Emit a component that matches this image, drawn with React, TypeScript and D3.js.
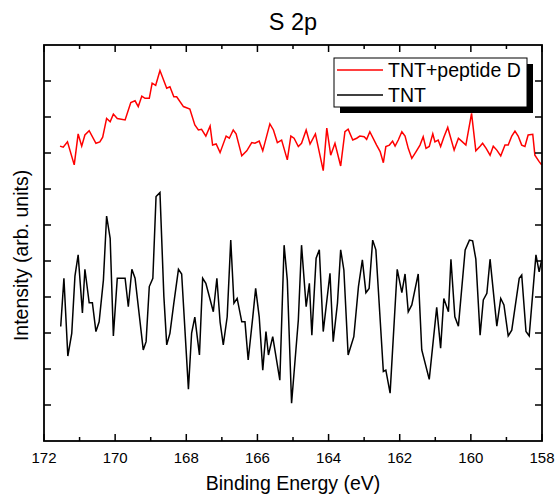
import React from "react";
import * as d3 from "d3";

const title = "S 2p";
const xLabel = "Binding Energy (eV)";
const yLabel = "Intensity (arb. units)";
const seriesNames = ["TNT+peptide D", "TNT"];
const seriesColors = ["#ff0000", "#000000"];

const xMajorTicks = [172, 170, 168, 166, 164, 162, 160, 158];
const xMinorTicks = [171, 169, 167, 165, 163, 161, 159];
const yTicks = [1, 2, 3, 4, 5, 6, 7, 8, 9, 10];

// TNT+peptide D : binding energy (eV)
const redE = [
  171.55, 171.46, 171.34, 171.15, 171.04, 170.94, 170.85, 170.73, 170.54, 170.43,
  170.35, 170.24, 170.14, 170.05, 169.94, 169.72, 169.56, 169.44, 169.35, 169.25,
  169.16, 169.04, 168.96, 168.86, 168.74, 168.55, 168.46, 168.35, 168.27, 168.08,
  167.9, 167.76, 167.66, 167.57, 167.45, 167.33, 167.26, 167.16, 167.05, 166.88,
  166.79, 166.68, 166.6, 166.44, 166.3, 166.16, 166.07, 165.95, 165.85, 165.65,
  165.55, 165.44, 165.32, 165.16, 165.06, 164.97, 164.85, 164.76, 164.63, 164.52,
  164.37, 164.15, 164.05, 163.94, 163.82, 163.66, 163.54, 163.45, 163.32, 163.21,
  163.12, 163.0, 162.93, 162.84, 162.65, 162.55, 162.46, 162.39, 162.29, 162.2,
  162.13, 162.04, 161.94, 161.85, 161.76, 161.66, 161.54, 161.43, 161.34, 161.26,
  161.17, 161.07, 161.01, 160.92, 160.85, 160.76, 160.65, 160.59, 160.47, 160.35,
  160.26, 160.14, 159.98, 159.86, 159.74, 159.67, 159.57, 159.46, 159.37, 159.27,
  159.16, 159.04, 158.95, 158.85, 158.76, 158.67, 158.57, 158.48, 158.39, 158.26,
  158.2, 158.08, 158.01,
];
// TNT+peptide D : intensity
const redI = [
  8.19, 8.16, 8.31, 7.67, 8.53, 8.19, 8.5, 8.62, 8.27, 8.31,
  8.44, 8.96, 8.87, 9.08, 8.96, 8.92, 9.4, 9.45, 9.29, 9.58,
  9.52, 9.52, 9.94, 9.88, 10.29, 9.8, 9.84, 9.56, 9.56, 9.29,
  9.22, 8.78, 8.64, 8.66, 8.47, 8.75, 8.22, 8.25, 8.01, 8.47,
  8.41, 8.64, 8.53, 7.92, 8.06, 8.29, 8.27, 8.33, 8.06, 8.81,
  8.64, 8.29, 8.36, 7.81, 8.47, 8.41, 8.18, 8.27, 8.64, 8.25,
  8.53, 7.51, 8.69, 7.94, 8.27, 7.64, 8.59, 8.66, 8.36, 8.41,
  8.47, 8.45, 8.38, 8.59, 8.22, 8.04, 7.73, 8.18, 8.22, 8.33,
  8.19, 8.36, 8.59, 8.47, 8.13, 7.85, 8.04, 8.22, 8.45, 8.13,
  8.18, 8.53, 8.31, 8.36, 8.18, 8.44, 8.71, 8.5, 8.08, 8.41,
  8.33, 8.22, 9.1, 8.06, 8.19, 8.27, 8.13, 7.94, 8.19, 8.08,
  7.92, 8.22, 8.22, 8.47, 8.61, 8.47, 8.22, 8.18, 8.5, 8.52,
  7.94, 7.76, 7.67,
];

// TNT : binding energy (eV)
const blackE = [
  171.53, 171.44, 171.33, 171.22, 171.13, 171.04, 170.92, 170.85, 170.73, 170.64,
  170.54, 170.45, 170.33, 170.24, 170.14, 170.05, 169.94, 169.72, 169.63, 169.53,
  169.44, 169.21, 169.13, 169.04, 168.94, 168.85, 168.74, 168.63, 168.55, 168.46,
  168.35, 168.22, 168.13, 167.94, 167.85, 167.76, 167.63, 167.54, 167.45, 167.24,
  167.14, 167.05, 166.96, 166.85, 166.75, 166.66, 166.57, 166.44, 166.35, 166.26,
  166.13, 166.05, 165.95, 165.85, 165.76, 165.69, 165.57, 165.37, 165.25, 165.16,
  165.04, 164.85, 164.76, 164.63, 164.54, 164.47, 164.35, 164.26, 164.15, 163.96,
  163.87, 163.75, 163.66, 163.57, 163.45, 163.29, 163.16, 163.05, 162.95, 162.86,
  162.76, 162.67, 162.46, 162.39, 162.27, 162.07, 161.94, 161.85, 161.76, 161.66,
  161.48, 161.38, 161.17, 160.96, 160.85, 160.76, 160.63, 160.56, 160.45, 160.35,
  160.16, 160.04, 159.95, 159.86, 159.74, 159.65, 159.55, 159.46, 159.27, 159.16,
  159.07, 158.95, 158.85, 158.64, 158.57, 158.45, 158.36, 158.17, 158.08, 158.01,
];
// TNT : intensity
const blackI = [
  3.18, 4.52, 2.36, 2.99, 4.58, 5.17, 3.56, 4.77, 3.84, 3.84,
  3.04, 3.31, 4.47, 6.25, 5.63, 2.92, 4.52, 4.52, 3.73, 4.77,
  4.52, 2.53, 2.76, 4.29, 4.52, 6.79, 6.9, 4.01, 2.67, 2.99,
  3.83, 4.77, 4.64, 1.44, 3.0, 3.44, 2.39, 4.52, 4.38, 3.59,
  4.52, 3.31, 2.67, 3.45, 5.58, 3.83, 3.96, 3.31, 3.31, 2.25,
  3.45, 4.24, 3.45, 1.97, 3.04, 2.39, 2.9, 1.69, 5.44, 4.47,
  1.05, 3.36, 5.44, 3.73, 4.38, 2.94, 5.08, 5.31, 3.04, 4.66,
  2.76, 3.83, 5.31, 4.75, 2.39, 2.9, 4.29, 5.03, 4.12, 4.24,
  5.58, 5.31, 1.93, 1.97, 1.33, 4.77, 4.12, 4.64, 3.59, 3.78,
  4.64, 2.53, 1.71, 3.71, 2.58, 3.96, 3.59, 5.05, 3.45, 3.19,
  5.31, 5.58, 5.56, 5.05, 2.94, 3.92, 4.1, 5.05, 3.19, 3.96,
  3.78, 2.92, 3.08, 4.52, 4.61, 3.04, 2.92, 5.17, 4.7, 5.03,
];

const W = 556;
const H = 498;
const L = 44, R = 542, T = 45, B = 441;
const FONT = "Arial, 'Liberation Sans', Helvetica, sans-serif";

export default function App() {
  const x = d3.scaleLinear().domain([172, 158]).range([L, R]);
  const y = d3.scaleLinear().domain([0, 11]).range([B, T]);

  const line = d3
    .line<[number, number]>()
    .x((d) => x(d[0]))
    .y((d) => y(d[1]));

  const red: [number, number][] = redE.map((e, i) => [e, redI[i]]);
  const black: [number, number][] = blackE.map((e, i) => [e, blackI[i]]);

  const majorLen = 7;
  const minorLen = 4;
  const yLen = 7;

  // legend geometry
  const lgX = 334, lgY = 58, lgW = 193, lgH = 49, sh = 6;

  return (
    <svg
      width={W}
      height={H}
      style={{ position: "absolute", left: 0, top: 0, background: "#fff" }}
      fontFamily={FONT}
    >
      <rect x={0} y={0} width={W} height={H} fill="#fff" />
      {/* data */}
      <path d={line(black) || ""} fill="none" stroke={seriesColors[1]} strokeWidth={1.5} />
      <path d={line(red) || ""} fill="none" stroke={seriesColors[0]} strokeWidth={1.5} />

      {/* frame */}
      <rect x={L} y={T} width={R - L} height={B - T} fill="none" stroke="#000" strokeWidth={1.8} />

      {/* x ticks bottom & top */}
      {xMajorTicks.map((t) => (
        <g key={"M" + t}>
          <line x1={x(t)} x2={x(t)} y1={B} y2={B - majorLen} stroke="#000" strokeWidth={1.5} />
          <line x1={x(t)} x2={x(t)} y1={T} y2={T + majorLen} stroke="#000" strokeWidth={1.5} />
          <text x={x(t)} y={463} fontSize={15} textAnchor="middle" fill="#000">
            {t}
          </text>
        </g>
      ))}
      {xMinorTicks.map((t) => (
        <g key={"m" + t}>
          <line x1={x(t)} x2={x(t)} y1={B} y2={B - minorLen} stroke="#000" strokeWidth={1.5} />
          <line x1={x(t)} x2={x(t)} y1={T} y2={T + minorLen} stroke="#000" strokeWidth={1.5} />
        </g>
      ))}
      {/* y ticks left & right */}
      {yTicks.map((t) => (
        <g key={"y" + t}>
          <line x1={L} x2={L + yLen} y1={y(t)} y2={y(t)} stroke="#000" strokeWidth={1.5} />
          <line x1={R} x2={R - yLen} y1={y(t)} y2={y(t)} stroke="#000" strokeWidth={1.5} />
        </g>
      ))}

      {/* titles */}
      <text x={293} y={30} fontSize={23.5} textAnchor="middle" fill="#000">
        {title}
      </text>
      <text x={293} y={490} fontSize={19.5} textAnchor="middle" fill="#000">
        {xLabel}
      </text>
      <text
        transform={`translate(28,255.5) rotate(-90)`}
        fontSize={19.5}
        textAnchor="middle"
        fill="#000"
      >
        {yLabel}
      </text>

      {/* legend */}
      <rect x={lgX + sh} y={lgY + sh} width={lgW} height={lgH} fill="#000" />
      <rect x={lgX} y={lgY} width={lgW} height={lgH} fill="#fff" stroke="#000" strokeWidth={1} />
      {seriesNames.map((n, i) => (
        <g key={n}>
          <line
            x1={lgX + 3}
            x2={lgX + 49}
            y1={70 + i * 25}
            y2={70 + i * 25}
            stroke={seriesColors[i]}
            strokeWidth={1.3}
          />
          <text x={388} y={77 + i * 25} fontSize={19.5} fill="#000">
            {n}
          </text>
        </g>
      ))}
    </svg>
  );
}
